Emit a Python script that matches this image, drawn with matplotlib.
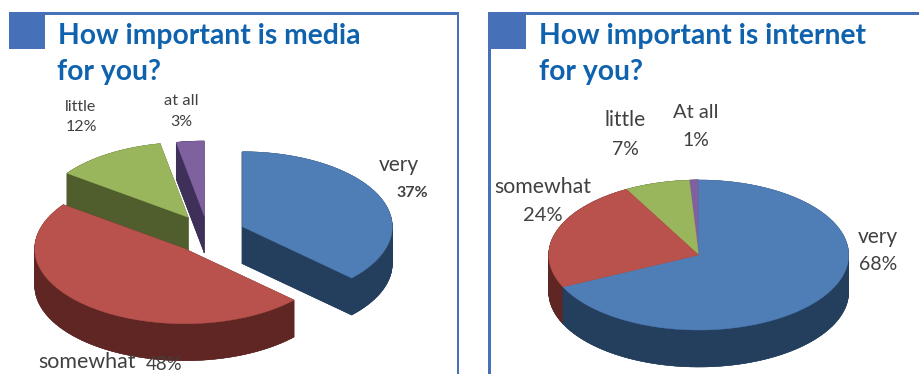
import numpy as np
import matplotlib
matplotlib.use("Agg")
import matplotlib.pyplot as plt
from matplotlib.patches import Polygon, Rectangle

plt.rcParams['font.family'] = ['Lato', 'DejaVu Sans']

categories_media = ['very', 'somewhat', 'little', 'at all']
values_media = [37, 48, 12, 3]

categories_internet = ['very', 'somewhat', 'little', 'At all']
values_internet = [68, 24, 7, 1]

top_colors = ['#4F7DB5', '#B9524C', '#9AB65C', '#7F619F']
side_colors = ['#243F5E', '#5F2624', '#4F5E2C', '#3E3058']
frame_color = '#4671B8'
title_color = '#0F62AE'
label_color = '#404040'

RX, RY, DEPTH = 150, 75, 37


def sector(values, i, apex):
    # outline of one slice, clockwise from 12 o'clock, squashed into an ellipse
    total = sum(values)
    start = sum(values[:i]) / total * 2 * np.pi
    end = sum(values[:i + 1]) / total * 2 * np.pi
    t = np.linspace(start, end, 120)
    x = apex[0] + RX * np.sin(t)
    y = apex[1] - RY * np.cos(t)
    return np.vstack([[apex], np.column_stack([x, y])])


def pie3d(ax, values, apexes):
    # extruded sides first, tops afterwards so they cover the walls behind
    outlines = [sector(values, i, apexes[i]) for i in range(len(values))]
    for i in [3, 2, 1, 0]:
        pts = outlines[i]
        lower = pts + [0, DEPTH]
        color = side_colors[i]
        ax.add_patch(Polygon(lower, closed=True, fc=color, ec=color, lw=0.3))
        for j in range(len(pts)):
            a, b = pts[j], pts[(j + 1) % len(pts)]
            quad = [a, b, b + [0, DEPTH], a + [0, DEPTH]]
            ax.add_patch(Polygon(quad, closed=True, fc=color, ec=color, lw=0.3))
    for i in [3, 2, 0, 1]:
        ax.add_patch(Polygon(outlines[i], closed=True, fc=top_colors[i],
                             ec=top_colors[i], lw=0.3))


def label(ax, x, y, s, size=12.5, weight='normal'):
    ax.text(x, y, s, ha='center', va='center', fontsize=size, fontweight=weight,
            color=label_color)


fig = plt.figure(figsize=(9.2, 3.74), dpi=100)
ax = fig.add_axes([0, 0, 1, 1])
ax.set_xlim(0, 920)
ax.set_ylim(374, 0)
ax.axis('off')

# panel frames
ax.add_patch(Rectangle((9, 12), 450, 2.5, fc=frame_color, ec='none'))
ax.add_patch(Rectangle((9, 12), 36, 37, fc=frame_color, ec='none'))
ax.add_patch(Rectangle((457, 12), 2.5, 362, fc=frame_color, ec='none'))
ax.add_patch(Rectangle((488, 12), 432, 2.5, fc=frame_color, ec='none'))
ax.add_patch(Rectangle((488, 12), 38, 37, fc=frame_color, ec='none'))
ax.add_patch(Rectangle((488, 12), 3, 362, fc=frame_color, ec='none'))

ax.text(58, 44, 'How important is media', fontsize=20.3, fontweight='bold',
        color=title_color, va='baseline')
ax.text(57, 80, 'for you?', fontsize=20.3, fontweight='bold',
        color=title_color, va='baseline')
ax.text(539, 44, 'How important is internet', fontsize=20.3, fontweight='bold',
        color=title_color, va='baseline')
ax.text(539, 80, 'for you?', fontsize=20.3, fontweight='bold',
        color=title_color, va='baseline')

# left pie has its slices pulled apart, right pie is solid
pie3d(ax, values_media, [(242.3, 226.7), (184.7, 248.7), (188.3, 217.3), (204.3, 216)])
pie3d(ax, values_internet, [(698.7, 255)] * 4)

label(ax, 399, 165, categories_media[0], size=15)
label(ax, 412, 193, f'{values_media[0]}%', size=11.5, weight='bold')
label(ax, 81, 107, categories_media[2], size=11.5)
label(ax, 81, 127, f'{values_media[2]}%', size=11.5)
label(ax, 181, 101, categories_media[3], size=11.8)
label(ax, 181, 122, f'{values_media[3]}%', size=11.5)
label(ax, 87, 362, categories_media[1], size=15.4)
label(ax, 164, 364, f'{values_media[1]}%', size=13.4)

label(ax, 878, 237, categories_internet[0], size=15)
label(ax, 878, 265, f'{values_internet[0]}%', size=14)
label(ax, 543, 187, categories_internet[1], size=15.3)
label(ax, 543, 215, f'{values_internet[1]}%', size=14.5)
label(ax, 625, 120, categories_internet[2], size=15)
label(ax, 625, 149, f'{values_internet[2]}%', size=14)
label(ax, 696, 112, categories_internet[3], size=14.5)
label(ax, 696, 140, f'{values_internet[3]}%', size=14)

fig.savefig('out.png', dpi=100, facecolor='white')
